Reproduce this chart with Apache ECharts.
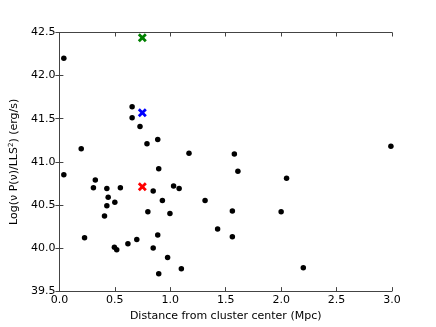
<!DOCTYPE html>
<html>
<head>
<meta charset="utf-8">
<script src="https://cdn.jsdelivr.net/npm/echarts@6/dist/echarts.min.js"></script>
<style>
  html, body { margin: 0; padding: 0; background: #fff; }
  #chart { width: 436px; height: 327px; }
</style>
</head>
<body>
<div id="chart"></div>
<script>
// distance (Mpc), log luminosity
var dist = [0.04, 0.197, 0.656, 0.656, 0.727, 0.79, 0.887, 1.169, 1.578, 2.99,
  0.04, 0.324, 0.307, 0.428, 0.44, 0.55, 0.428, 0.5, 0.407, 0.227,
  0.496, 0.517, 0.618, 0.698, 0.896, 0.846, 0.929, 0.798, 0.997, 1.03,
  1.08, 0.887, 0.846, 0.976, 1.10, 0.896, 1.314, 1.427, 1.61, 2.049,
  1.56, 2.0, 1.56, 2.2];
var lum = [42.20, 41.15, 41.64, 41.51, 41.41, 41.21, 41.26, 41.10, 41.09, 41.18,
  40.85, 40.79, 40.70, 40.69, 40.59, 40.70, 40.49, 40.53, 40.37, 40.12,
  40.01, 39.98, 40.05, 40.10, 40.92, 40.66, 40.55, 40.42, 40.40, 40.72,
  40.69, 40.15, 40.00, 39.89, 39.76, 39.70, 40.55, 40.22, 40.89, 40.81,
  40.43, 40.42, 40.13, 39.77];

// the three highlighted clusters (x markers)
var markNames = ['green', 'blue', 'red'];
var markColors = ['#008000', '#0000ff', '#ff0000'];
var markX = [0.748, 0.748, 0.748];
var markY = [42.44, 41.57, 40.71];

var xShape = 'path://M0,2.2L2.2,0L5,2.8L7.8,0L10,2.2L7.2,5L10,7.8L7.8,10L5,7.2L2.2,10L0,7.8L2.8,5Z';
var font = 'DejaVu Sans';
var axisCol = '#444';

var chart = echarts.init(document.getElementById('chart'), null, { renderer: 'canvas' });

var points = dist.map(function (d, i) { return [d, lum[i]]; });

var series = [{
  type: 'scatter',
  data: points,
  symbol: 'circle',
  symbolSize: 5.5,
  itemStyle: { color: '#000', opacity: 1 },
  silent: true
}];
markNames.forEach(function (n, i) {
  series.push({
    name: n,
    type: 'scatter',
    data: [[markX[i], markY[i]]],
    symbol: xShape,
    symbolSize: 9,
    itemStyle: { color: markColors[i], opacity: 1 },
    silent: true
  });
});

function baseAxis() {
  return {
    axisLine: { show: true, lineStyle: { color: axisCol, width: 1 } },
    axisTick: { show: true, inside: true, length: 4, lineStyle: { color: axisCol } },
    splitLine: { show: false },
    axisLabel: { color: '#000', fontFamily: font, fontSize: 11 }
  };
}

var xMain = Object.assign(baseAxis(), {
  type: 'value', min: 0, max: 3, interval: 0.5, position: 'bottom',
  name: 'Distance from cluster center (Mpc)',
  nameLocation: 'middle', nameGap: 19,
  nameTextStyle: { color: '#000', fontFamily: font, fontSize: 11 }
});
xMain.axisLabel.formatter = function (v) { return v.toFixed(1); };
xMain.axisLabel.margin = 4;

var xTop = Object.assign(baseAxis(), {
  type: 'value', min: 0, max: 3, interval: 0.5, position: 'top'
});
xTop.axisLabel = { show: false };

var yMain = Object.assign(baseAxis(), {
  type: 'value', min: 39.5, max: 42.5, interval: 0.5, position: 'left',
  name: 'Log(\u03bd P(\u03bd)/LLS{sup|2}) (erg/s)',
  nameLocation: 'middle', nameGap: 36, nameRotate: 90,
  nameTextStyle: {
    color: '#000', fontFamily: font, fontSize: 11,
    rich: { sup: { fontSize: 7, verticalAlign: 'top', padding: [0, 0, 6, 0], fontFamily: font, color: '#000' } }
  }
});
yMain.axisLabel.formatter = function (v) { return v.toFixed(1); };
yMain.axisLabel.margin = 4;

var yRight = Object.assign(baseAxis(), {
  type: 'value', min: 39.5, max: 42.5, interval: 0.5, position: 'right'
});
yRight.axisLabel = { show: false };

chart.setOption({
  backgroundColor: '#fff',
  animation: false,
  textStyle: { fontFamily: font },
  grid: { left: 54.5, top: 32.5, right: 44, bottom: 33.5, containLabel: false },
  xAxis: [xMain, xTop],
  yAxis: [yMain, yRight],
  series: series
});
</script>
</body>
</html>
